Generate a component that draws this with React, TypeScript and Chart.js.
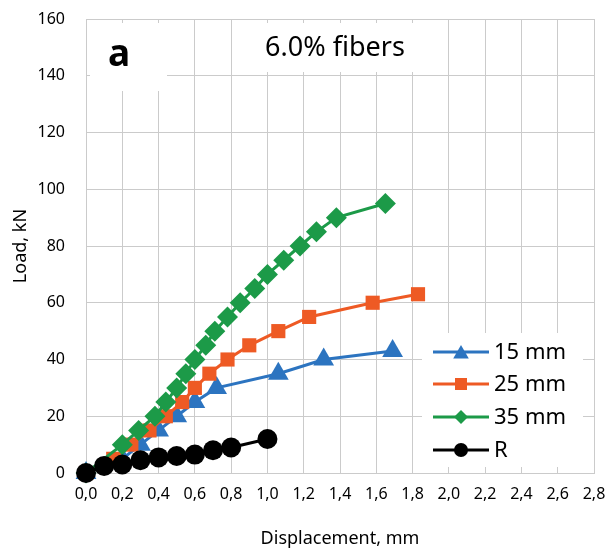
import React, { useEffect, useRef } from 'react';
import { Chart, registerables } from 'chart.js';

Chart.register(...registerables);

// ---- data ----
const seriesNames = ['15 mm', '25 mm', '35 mm', 'R'];
const seriesColors = ['#2C74C0', '#EE5A24', '#1C9A48', '#000000'];
const seriesShapes = ['triangle', 'rect', 'rectRot', 'circle'];

const s15x = [0, 0.2, 0.3, 0.4, 0.5, 0.6, 0.72, 1.06, 1.31, 1.69];
const s15y = [0, 5, 10, 15, 20, 25, 30, 35, 40, 43];

const s25x = [0, 0.15, 0.25, 0.35, 0.44, 0.53, 0.6, 0.68, 0.78, 0.9, 1.06, 1.23, 1.58, 1.83];
const s25y = [0, 5, 10, 15, 20, 25, 30, 35, 40, 45, 50, 55, 60, 63];

const s35x = [0, 0.2, 0.29, 0.38, 0.44, 0.5, 0.55, 0.6, 0.66, 0.71, 0.78, 0.85, 0.93, 1.0, 1.09, 1.18, 1.27, 1.38, 1.65];
const s35y = [0, 10, 15, 20, 25, 30, 35, 40, 45, 50, 55, 60, 65, 70, 75, 80, 85, 90, 95];

const rX = [0, 0.1, 0.2, 0.3, 0.4, 0.5, 0.6, 0.7, 0.8, 1.0];
const rY = [0, 2.5, 3, 4.5, 5.5, 6, 6.5, 8, 9, 12];

const xMin = 0, xMax = 2.8, xStep = 0.2;
const yMin = 0, yMax = 160, yStep = 20;

const titleText = '6.0% fibers';
const panelLetter = 'a';
const xTitle = 'Displacement, mm';
const yTitle = 'Load, kN';

const FONT = '"Noto Sans", "Open Sans", sans-serif';
const GRID = '#cbcbcb';

function drawMarker(ctx: CanvasRenderingContext2D, shape: string, x: number, y: number, r: number, color: string) {
  ctx.save();
  ctx.fillStyle = color;
  ctx.beginPath();
  if (shape === 'triangle') {
    ctx.moveTo(x, y - r);
    ctx.lineTo(x + 0.866 * r, y + 0.5 * r);
    ctx.lineTo(x - 0.866 * r, y + 0.5 * r);
    ctx.closePath();
  } else if (shape === 'rect') {
    const s = r * Math.SQRT1_2;
    ctx.rect(x - s, y - s, 2 * s, 2 * s);
  } else if (shape === 'rectRot') {
    ctx.moveTo(x - r, y);
    ctx.lineTo(x, y - r);
    ctx.lineTo(x + r, y);
    ctx.lineTo(x, y + r);
    ctx.closePath();
  } else {
    ctx.arc(x, y, r, 0, Math.PI * 2);
  }
  ctx.fill();
  ctx.restore();
}

const overlayPlugin = {
  id: 'overlay',
  beforeDatasetsDraw(chart: any) {
    const { ctx, chartArea: a } = chart;
    ctx.save();
    ctx.fillStyle = '#ffffff';
    // panel letter box
    ctx.fillRect(a.left + 4, a.top + 4, 77, 68);
    // title box
    ctx.fillRect(a.left + 149, a.top + 4, 200, 49);
    // legend box
    ctx.fillRect(a.left + 336, a.top + 314, 161, 134);
    ctx.restore();
  },
  afterDraw(chart: any) {
    const { ctx, chartArea: a } = chart;
    ctx.save();
    ctx.fillStyle = '#000';
    ctx.textBaseline = 'middle';
    ctx.textAlign = 'center';
    ctx.font = `bold 37px ${FONT}`;
    ctx.fillText(panelLetter, a.left + 33, a.top + 36);
    ctx.font = `27px ${FONT}`;
    ctx.fillText(titleText, a.left + 249, a.top + 29);

    // legend
    const lx0 = a.left + 347;
    const lx1 = a.left + 403;
    const rows = [a.top + 333, a.top + 365, a.top + 398, a.top + 431];
    const sizes = [9, 8.5, 7, 7];
    ctx.font = `22px ${FONT}`;
    ctx.textAlign = 'left';
    seriesNames.forEach((name, i) => {
      const y = rows[i];
      ctx.strokeStyle = seriesColors[i];
      ctx.lineWidth = 3;
      ctx.beginPath();
      ctx.moveTo(lx0, y);
      ctx.lineTo(lx1, y);
      ctx.stroke();
      drawMarker(ctx, seriesShapes[i], (lx0 + lx1) / 2, y + (seriesShapes[i] === 'triangle' ? 2 : 0), sizes[i], seriesColors[i]);
      ctx.fillStyle = '#000';
      ctx.fillText(name, lx1 + 5, y + 1);
    });
    ctx.restore();
  },
};

function toPoints(xs: number[], ys: number[]) {
  return xs.map((x, i) => ({ x, y: ys[i] }));
}

export default function App() {
  const ref = useRef<HTMLCanvasElement | null>(null);

  useEffect(() => {
    if (!ref.current) return;
    const xsAll = [s15x, s25x, s35x, rX];
    const ysAll = [s15y, s25y, s35y, rY];
    const radii = [12, 10, 10.5, 10];
    const orders = [3, 2, 1, 0];
    const chart = new Chart(ref.current, {
      type: 'line',
      data: {
        datasets: seriesNames.map((name, i) => ({
          label: name,
          data: toPoints(xsAll[i], ysAll[i]),
          borderColor: seriesColors[i],
          backgroundColor: seriesColors[i],
          pointBackgroundColor: seriesColors[i],
          pointBorderColor: seriesColors[i],
          pointBorderWidth: 0,
          pointStyle: seriesShapes[i] as any,
          pointRadius: radii[i],
          borderWidth: 3,
          tension: 0,
          clip: false as any,
          order: orders[i],
        })),
      },
      options: {
        responsive: false,
        animation: false,
        layout: { padding: { top: 19, right: 14, left: 0, bottom: 0 } },
        plugins: {
          legend: { display: false },
          tooltip: { enabled: false },
        },
        scales: {
          x: {
            type: 'linear',
            min: xMin,
            max: xMax,
            ticks: {
              stepSize: xStep,
              padding: 12,
              color: '#000',
              font: { family: FONT, size: 16 },
              callback: (v: any) => Number(v).toFixed(1).replace('.', ','),
              maxRotation: 0,
              autoSkip: false,
            },
            grid: { color: GRID, lineWidth: 1, drawTicks: false },
            border: { color: GRID, width: 1 },
            title: {
              display: true,
              text: xTitle,
              color: '#000',
              font: { family: FONT, size: 18 },
              padding: { top: 0, bottom: 1 },
            },
            afterFit: (s: any) => {
              s.height = 78;
              s.paddingLeft = 0;
              s.paddingRight = 0;
            },
          },
          y: {
            type: 'linear',
            min: yMin,
            max: yMax,
            ticks: {
              stepSize: yStep,
              padding: 21,
              color: '#000',
              font: { family: FONT, size: 16 },
            },
            grid: { color: GRID, lineWidth: 1, drawTicks: false },
            border: { color: GRID, width: 1 },
            title: {
              display: true,
              text: yTitle,
              color: '#000',
              font: { family: FONT, size: 18 },
              padding: { top: 10, bottom: 0 },
            },
            afterFit: (s: any) => {
              s.width = 86;
              s.paddingTop = 0;
              s.paddingBottom = 0;
            },
          },
        },
      },
      plugins: [overlayPlugin],
    });
    return () => chart.destroy();
  }, []);

  return (
    <div style={{ position: 'absolute', left: 0, top: 0, width: 608, height: 551, background: '#fff' }}>
      <canvas ref={ref} width={608} height={551} style={{ display: 'block' }} />
    </div>
  );
}
